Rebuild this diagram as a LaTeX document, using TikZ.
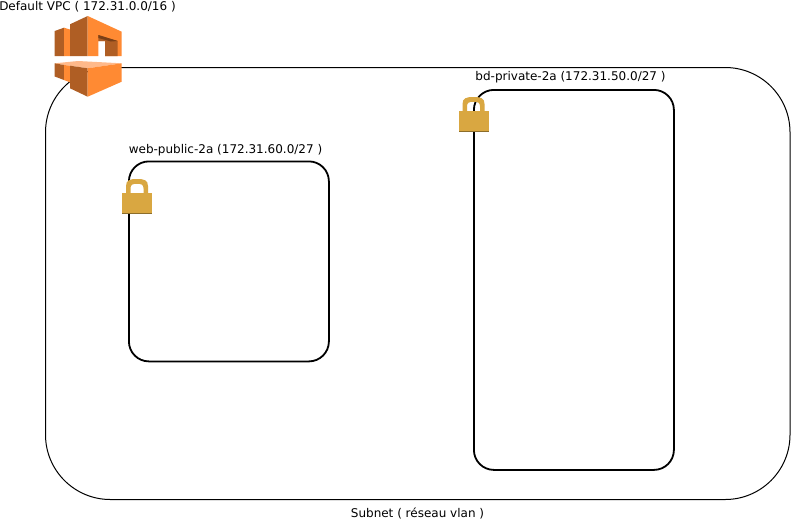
\documentclass[tikz,border=0pt]{standalone}
\usepackage{fontspec}
\setmainfont{DejaVu Sans}
\definecolor{oA}{HTML}{FF8A33}
\definecolor{oB}{HTML}{AF5E24}
\definecolor{oC}{HTML}{FFB98A}
\definecolor{oD}{HTML}{7A3F17}
\definecolor{lockc}{HTML}{D9A741}
\definecolor{lockd}{HTML}{8C6D2A}
\tikzset{
 x=1pt,y=-1pt,
 lbl/.style={font=\fontsize{12}{14}\selectfont,inner sep=0pt,anchor=base,text=black},
 subnetbox/.style={draw=black,line width=1.8pt,rounded corners=20pt,fill=none},
 vpcbox/.style={draw=black,line width=1pt,rounded corners=64.8pt,fill=none},
}
\newcommand{\lockicon}[2]{%
 \begin{scope}[shift={(#1,#2)}]
  \fill[lockc] (-11,16) -- (-11,7) .. controls (-11,1) and (-7,0) .. (0,0) .. controls (7,0) and (11,1) .. (11,7) -- (11,16) -- (6.5,16) -- (6.5,9.5) .. controls (6.5,5.5) and (4.5,4.8) .. (0,4.8) .. controls (-4.5,4.8) and (-6.5,5.5) .. (-6.5,9.5) -- (-6.5,16) -- cycle;
  \fill[lockc] (-15,13.5) rectangle (15,34.2);
  \fill[lockd] (-15,34.2) rectangle (15,35);
 \end{scope}}
\begin{document}
\begin{tikzpicture}
\useasboundingbox (0,0) rectangle (791,520);
\fill[white] (0,0) rectangle (791,520);
\node[vpcbox,minimum width=744.5pt,minimum height=432pt,inner sep=0pt,anchor=north west] (vpc) at (45,67) {};
\node[subnetbox,minimum width=200pt,minimum height=200pt,inner sep=0pt,anchor=north west] (web) at (128,160.5) {};
\node[subnetbox,minimum width=200pt,minimum height=380pt,inner sep=0pt,anchor=north west] (bd) at (473,89) {};
\node[lbl] (t1) at (87.5,10) {Default VPC ( 172.31.0.0/16 )};
\node[lbl] (t2) at (225.5,153) {web-public-2a (172.31.60.0/27 )};
\node[lbl] (t3) at (570.5,80) {bd-private-2a (172.31.50.0/27 )};
\node[lbl] (t4) at (417.5,517) {Subnet ( réseau vlan )};
\lockicon{137}{179}
\lockicon{473.5}{97}
% VPC icon
\fill[oB] (54.7,31) -- (64,27.7) -- (64,56) -- (54.7,56) -- cycle;
\fill[oA] (64,27.7) -- (70,29.5) -- (70,56) -- (64,56) -- cycle;
\fill[oB] (70,24.3) -- (87.7,16) -- (87.7,56) -- (70,56) -- cycle;
\fill[oA] (87.7,16) -- (121.7,31.7) -- (121.7,56) -- (105,56) -- (105,41) -- (98.3,41) -- (98.3,56) -- (87.7,56) -- cycle;
\fill[oB] (98.3,35) -- (117.7,41) -- (117.7,56) -- (105,56) -- (105,41) -- (98.3,41) -- cycle;
\fill[oD] (98.3,35) -- (117.7,41) -- (111,41.5) -- (98.3,38) -- cycle;
\fill[oC] (54.7,63.3) -- (78,61) -- (121.7,63.3) -- (87.7,68.3) -- (70,65.7) -- (64,65) -- cycle;
\fill[oB] (54.7,63.3) -- (64,65) -- (64,80) -- (54.7,76.5) -- cycle;
\fill[oA] (64,65) -- (70,65.7) -- (70,82.3) -- (64,80) -- cycle;
\fill[oB] (70,65.7) -- (87.7,68.3) -- (87.7,96.7) -- (70,88.3) -- cycle;
\fill[oA] (87.7,68.3) -- (121.7,63.3) -- (121.7,81.7) -- (87.7,96.7) -- cycle;
\end{tikzpicture}
\end{document}
